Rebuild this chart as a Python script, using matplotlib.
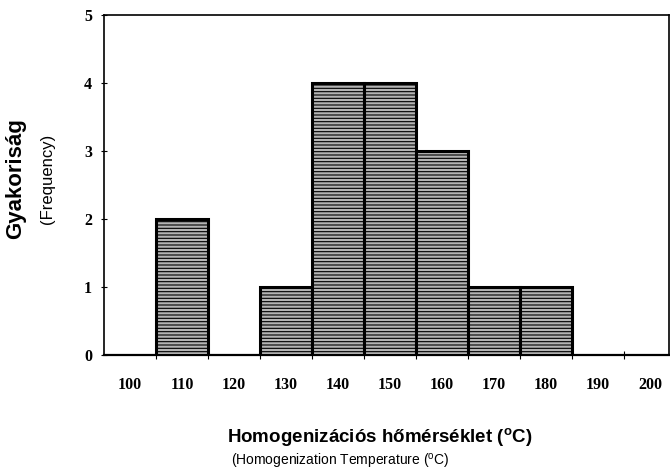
import matplotlib
matplotlib.use("Agg")
import matplotlib.pyplot as plt
import numpy as np

# Data
temps = [110, 130, 140, 150, 160, 170, 180]
freqs = [2, 1, 4, 4, 3, 1, 1]
xtick_labels = [100, 110, 120, 130, 140, 150, 160, 170, 180, 190, 200]
yticks = [0, 1, 2, 3, 4, 5]

plt.rcParams['hatch.linewidth'] = 0.8
plt.rcParams['hatch.color'] = '#333333'
plt.rcParams['mathtext.fontset'] = 'custom'
plt.rcParams['mathtext.rm'] = 'Liberation Sans'
plt.rcParams['mathtext.bf'] = 'Liberation Sans:bold'

fig = plt.figure(figsize=(6.7, 4.7), dpi=100)
ax = fig.add_axes([104/670, 1 - 355/470, (669-104)/670, (355-15)/470])

ax.bar(temps, freqs, width=10, facecolor='#b4b4b4', edgecolor='black',
       linewidth=2.2, hatch='-----', zorder=3)

ax.set_xlim(95, 95 + (669-104)/5.2)
ax.set_ylim(0, 5)

# major ticks at bin boundaries, labels at centers
ax.set_xticks(np.arange(105, 200, 10))
ax.set_xticklabels([])
ax.set_xticks(xtick_labels, minor=True)
ax.set_xticklabels([str(v) for v in xtick_labels], minor=True,
                   fontfamily='Liberation Serif', fontweight='bold', fontsize=11.5)
ax.tick_params(axis='x', which='minor', length=0, pad=16)
ax.tick_params(axis='x', which='major', direction='inout', length=6, width=0.8)

ax.set_yticks(yticks)
ax.set_yticklabels([str(v) for v in yticks], fontfamily='Liberation Serif',
                   fontweight='bold', fontsize=11.5)
ax.tick_params(axis='y', direction='inout', length=5, width=0.8, pad=6)

for s in ax.spines.values():
    s.set_linewidth(1.2)
ax.spines['bottom'].set_linewidth(1.6)

fig.text(380/670, 1 - 438/470, r'Homogenizációs hőmérséklet ($^{\mathbf{o}}$C)',
         ha='center', va='center', fontfamily='Liberation Sans',
         fontweight='bold', fontsize=13.5)
fig.text(340/670, 1 - 462/470, r'(Homogenization Temperature ($^{\mathrm{o}}$C)',
         ha='center', va='center', fontfamily='Liberation Sans', fontsize=10)
fig.text(16/670, 1 - 179/470, 'Gyakoriság', rotation=90, ha='center', va='center',
         fontfamily='Liberation Sans', fontweight='bold', fontsize=16)
fig.text(47/670, 1 - 179/470, '(Frequency)', rotation=90, ha='center', va='center',
         fontfamily='Liberation Sans', fontsize=12)

fig.savefig('out.png', dpi=100)
